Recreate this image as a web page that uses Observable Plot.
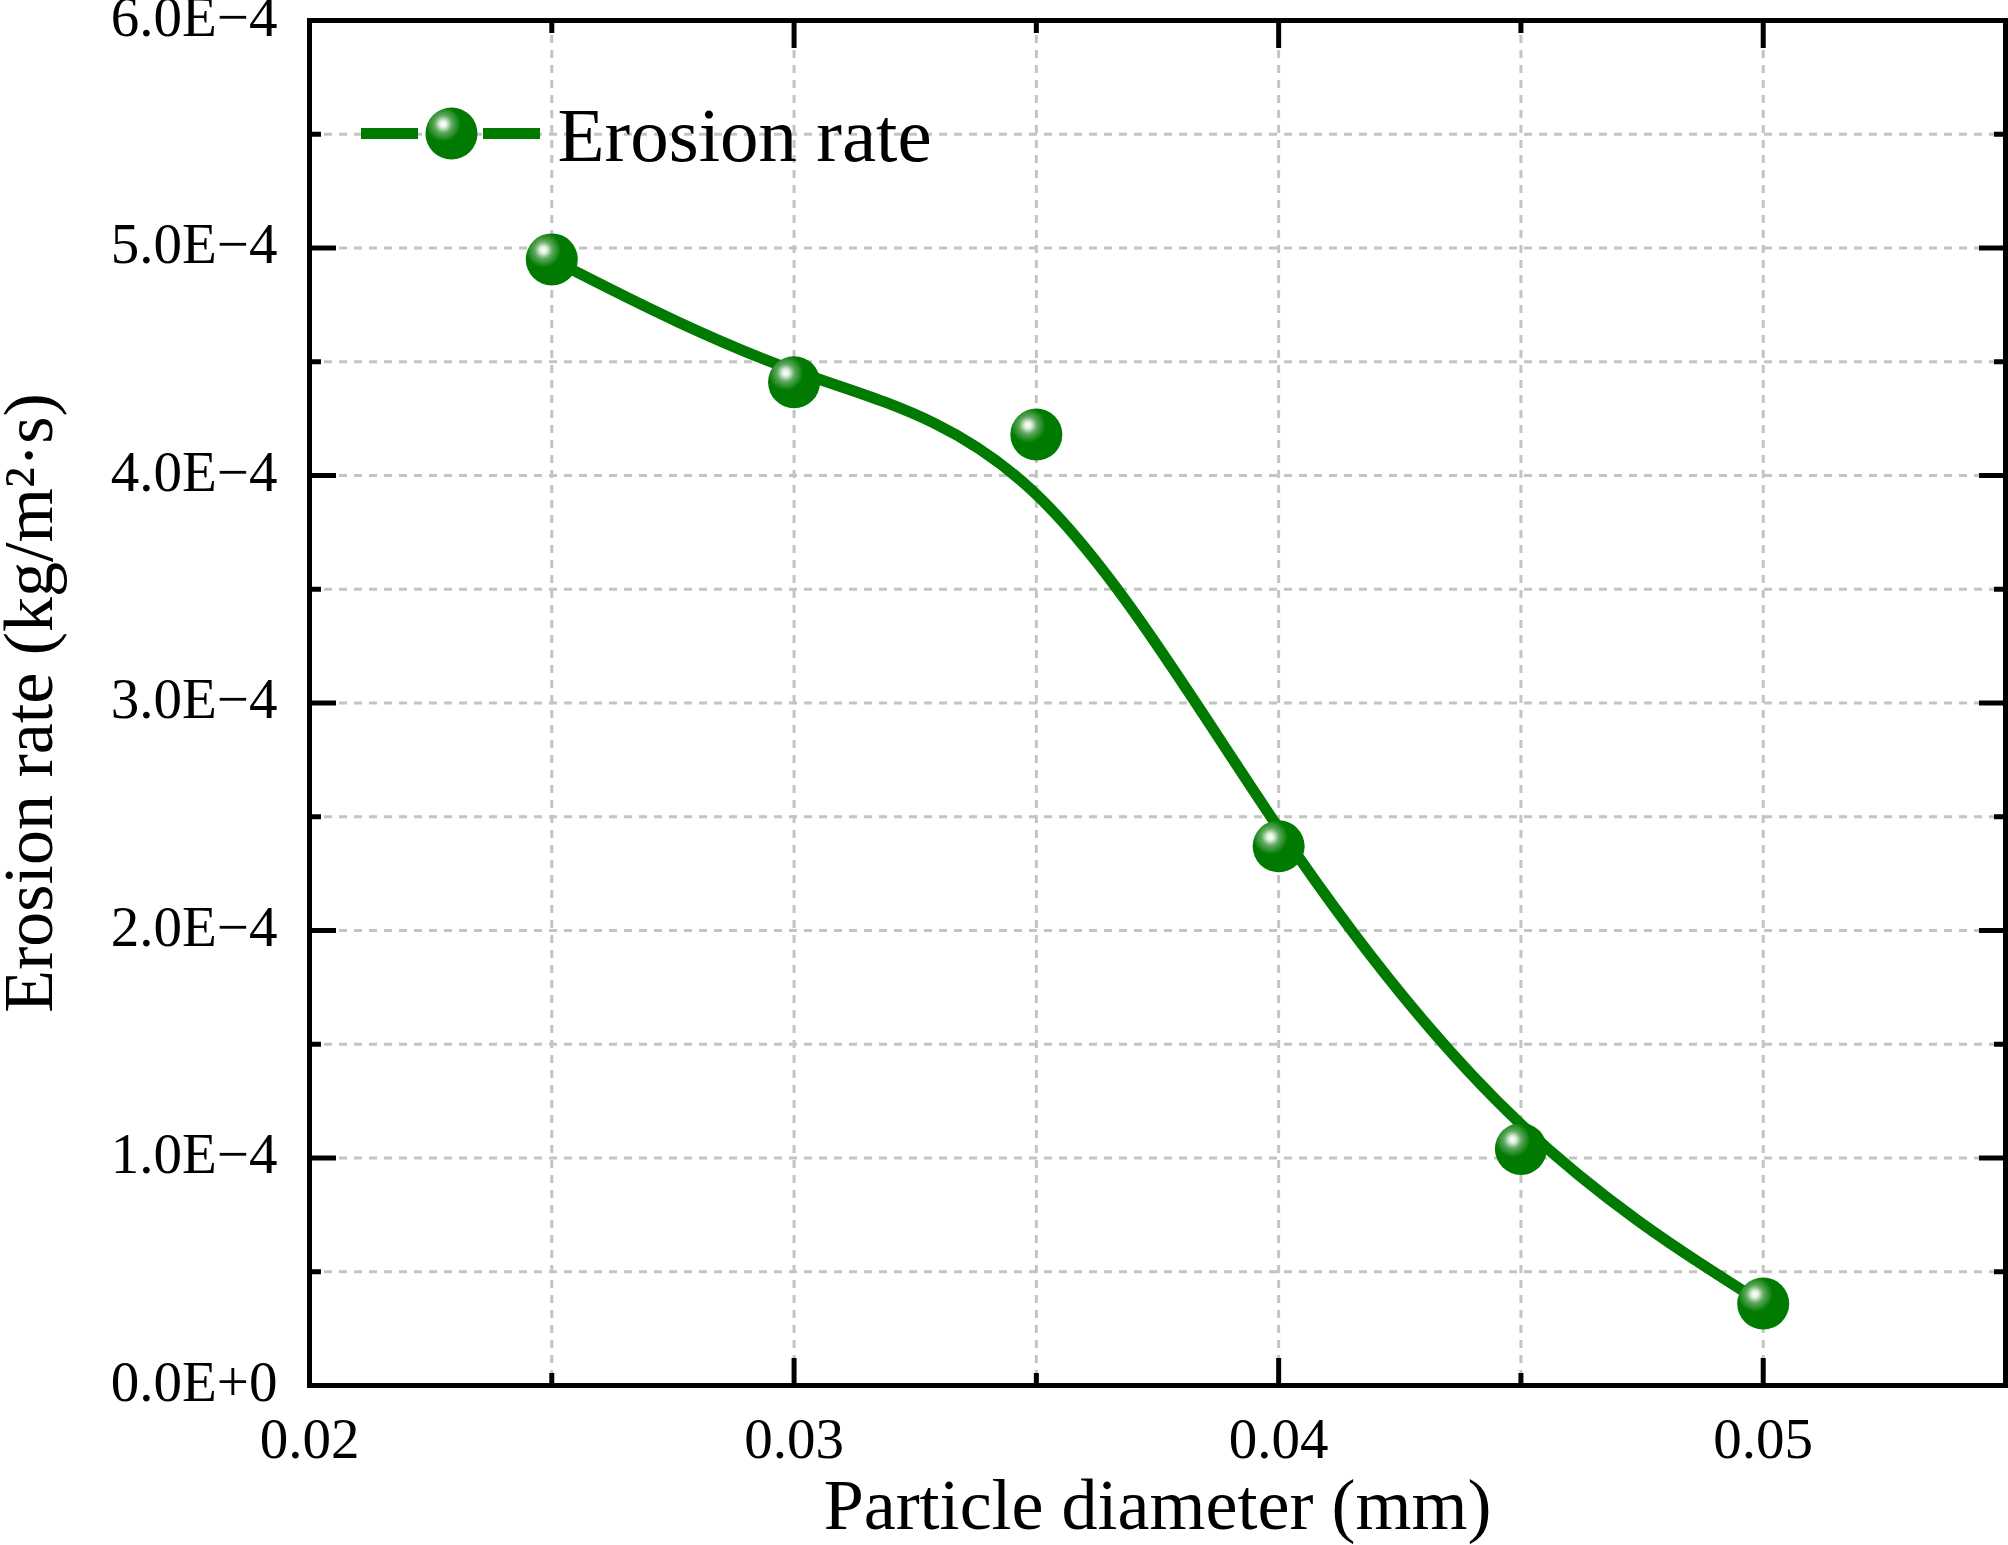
<!DOCTYPE html>
<html>
<head>
<meta charset="utf-8">
<script src="https://cdn.jsdelivr.net/npm/d3@7"></script>
<script src="https://cdn.jsdelivr.net/npm/@observablehq/plot@0.6"></script>
<style>
  html, body { margin: 0; padding: 0; background: #fff; }
</style>
</head>
<body>
<div id="chart"></div>
<script>
// ---- data ----
const diameter = [0.025, 0.030, 0.035, 0.040, 0.045, 0.050];           // mm
const erosionRate = [4.95e-4, 4.41e-4, 4.18e-4, 2.37e-4, 1.04e-4, 0.36e-4]; // kg/(m²·s)
const seriesName = "Erosion rate";

// ---- tick values ----
const xMajorTicks = [0.02, 0.03, 0.04, 0.05];
const xMinorTicks = [0.025, 0.035, 0.045];
const xGridTicks = [0.025, 0.03, 0.035, 0.04, 0.045, 0.05];
const yMajorTicks = [0, 1e-4, 2e-4, 3e-4, 4e-4, 5e-4, 6e-4];
const yMinorTicks = [0.5e-4, 1.5e-4, 2.5e-4, 3.5e-4, 4.5e-4, 5.5e-4];
const yGridTicks = [0.5e-4, 1e-4, 1.5e-4, 2e-4, 2.5e-4, 3e-4, 3.5e-4, 4e-4, 4.5e-4, 5e-4, 5.5e-4];

const xTitle = "Particle diameter (mm)";
const yTitle = "Erosion rate (kg/m\u00B2\u00B7s)";

const data = diameter.map((d, i) => ({diameter: d, rate: erosionRate[i]}));

const green = "#007a00";
const font = "Liberation Serif, Times New Roman, serif";
const fmtY = d => d === 0 ? "0.0E+0" : (d * 1e4).toFixed(1) + "E\u22124";
const fmtX = d => d.toFixed(2);

const W = 2008, H = 1545;
const mL = 309, mR = 3, mT = 20, mB = 160;
const plotH = H - mT - mB;

const gridStyle = {stroke: "#c4c4c4", strokeOpacity: 1, strokeWidth: 3, strokeDasharray: "8,7"};
const tickStyle = {stroke: "#000", strokeWidth: 5, tickFormat: () => "", label: null};

const svg = Plot.plot({
  width: W,
  height: H,
  marginLeft: mL,
  marginRight: mR,
  marginTop: mT,
  marginBottom: mB,
  style: {fontFamily: font, color: "#000", background: "#fff", overflow: "visible"},
  x: {domain: [0.02, 0.055], label: null},
  y: {domain: [0, 6e-4], label: null},
  marks: [
    Plot.gridX(xGridTicks, gridStyle),
    Plot.gridY(yGridTicks, gridStyle),

    // inward major/minor ticks on all four sides
    Plot.axisX(xMajorTicks, {...tickStyle, anchor: "bottom", tickSize: 27, dy: -27}),
    Plot.axisX(xMinorTicks, {...tickStyle, anchor: "bottom", tickSize: 12, dy: -12}),
    Plot.axisX(xMajorTicks, {...tickStyle, anchor: "top", tickSize: 27, dy: 27}),
    Plot.axisX(xMinorTicks, {...tickStyle, anchor: "top", tickSize: 12, dy: 12}),
    Plot.axisY(yMajorTicks, {...tickStyle, anchor: "left", tickSize: 27, dx: 27}),
    Plot.axisY(yMinorTicks, {...tickStyle, anchor: "left", tickSize: 12, dx: 12}),
    Plot.axisY(yMajorTicks, {...tickStyle, anchor: "right", tickSize: 27, dx: -27}),
    Plot.axisY(yMinorTicks, {...tickStyle, anchor: "right", tickSize: 12, dx: -12}),

    // tick labels
    Plot.axisX(xMajorTicks, {anchor: "bottom", tickSize: 0, tickPadding: 32, tickFormat: fmtX,
      fontSize: 57, fill: "#000", label: null}),
    Plot.axisY(yMajorTicks, {anchor: "left", tickSize: 0, tickPadding: 32, tickFormat: fmtY,
      fontSize: 57, fill: "#000", dy: -3, label: null}),

    // axis titles
    Plot.text([xTitle], {frameAnchor: "bottom", text: d => d, textAnchor: "middle", lineAnchor: "bottom",
      dy: 143, fontSize: 72, fill: "#000"}),
    Plot.text([yTitle], {frameAnchor: "left", text: d => d, rotate: -90, textAnchor: "middle", lineAnchor: "bottom",
      dx: -258, fontSize: 70, fill: "#000"}),

    // data: B-spline smoothed curve + spherical markers
    Plot.line(data, {x: "diameter", y: "rate", curve: "basis", stroke: green, strokeWidth: 11,
      strokeLinejoin: "round", strokeLinecap: "round"}),
    Plot.dot(data, {x: "diameter", y: "rate", r: 26, fill: "url(#sphere)", stroke: "none"}),

    // legend
    Plot.ruleY([0], {y: null, insetLeft: 52, insetRight: (W - mR) - 418, dy: 133 - (mT + plotH / 2),
      stroke: green, strokeWidth: 11}),
    Plot.ruleY([0], {y: null, insetLeft: 483 - mL, insetRight: (W - mR) - 540, dy: 133 - (mT + plotH / 2),
      stroke: green, strokeWidth: 11}),
    Plot.dot([seriesName], {frameAnchor: "top-left", dx: 142, dy: 113, r: 26, fill: "url(#sphere)", stroke: "none"}),
    Plot.text([seriesName], {frameAnchor: "top-left", text: d => d, dx: 248, dy: 140, textAnchor: "start",
      lineAnchor: "bottom", fontSize: 77, fill: "#000"}),

    Plot.frame({stroke: "#000", strokeWidth: 5})
  ]
});

d3.select(svg).insert("defs", ":first-child").html(
  `<radialGradient id="sphere" cx="0.34" cy="0.32" r="0.34" fx="0.34" fy="0.32">
     <stop offset="0" stop-color="#ffffff"/>
     <stop offset="0.18" stop-color="#e4f2e4"/>
     <stop offset="0.5" stop-color="#5ea85e"/>
     <stop offset="1" stop-color="${green}"/>
   </radialGradient>`
);

document.getElementById("chart").appendChild(svg);
</script>
</body>
</html>
